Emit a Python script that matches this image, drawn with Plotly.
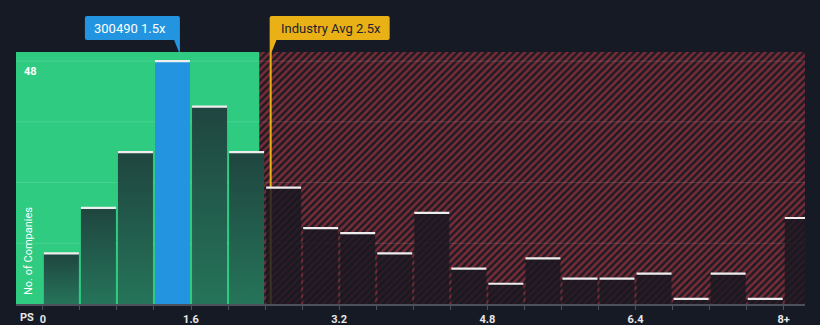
import plotly.graph_objects as go

# Price-to-sales distribution of peer companies (bins of 0.4x, last bin is 8x and above)
bin_width = 0.4
counts = [10, 19, 30, 48, 39, 30, 23, 15, 14, 10, 18, 7, 4, 9, 5, 5, 6, 1, 6, 1, 17]
label_vals = [0, 1.6, 3.2, 4.8, 6.4, 8.0]
label_text = ["0", "1.6", "3.2", "4.8", "6.4", "8+"]
y_grid = [12, 24, 36, 48]
y_label_vals = [48]

company = "300490"
company_ps = 1.48
industry_avg = 2.46
fair_limit = 2.34

x_range = [-0.29, 8.23]
y_range = [0, 49.8]

BG = "#151a24"
GREEN = "#2ecb80"
BLUE = "#2394df"
GOLD = "#e9b116"
FONT = "Roboto"

fig = go.Figure()

# hatched "expensive" zone
hx = [fair_limit, x_range[1], x_range[1], fair_limit, fair_limit]
hy = [y_range[0], y_range[0], y_range[1], y_range[1], y_range[0]]
fig.add_trace(go.Scatter(
    x=hx, y=hy, mode="lines", fill="toself", line=dict(width=0),
    fillcolor="rgba(0,0,0,0)",
    fillpattern=dict(shape="/", bgcolor="#1d1b25", fgcolor="#7a2c36",
                     size=5, solidity=0.5, fillmode="replace"),
    hoverinfo="skip", showlegend=False))

# horizontal grid lines
gx, gy = [], []
for v in y_grid:
    gx += [x_range[0], x_range[1], None]
    gy += [v, v, None]
fig.add_trace(go.Scatter(x=gx, y=gy, mode="lines",
                         line=dict(color="rgba(255,255,255,0.13)", width=1),
                         hoverinfo="skip", showlegend=False))

# industry average marker line
fig.add_trace(go.Scatter(x=[industry_avg, industry_avg], y=y_range, mode="lines",
                         line=dict(color=GOLD, width=2),
                         hoverinfo="skip", showlegend=False))

# histogram bars
gap = 0.022
top_x, top_y = [], []
for i, c in enumerate(counts):
    x0 = i * bin_width + gap / 2
    x1 = (i + 1) * bin_width - gap / 2
    center = (x0 + x1) / 2
    px = [x0, x1, x1, x0, x0]
    py = [0, 0, c, c, 0]
    if i * bin_width <= company_ps < (i + 1) * bin_width:
        fig.add_trace(go.Scatter(x=px, y=py, mode="lines", fill="toself",
                                 fillcolor=BLUE, line=dict(width=0),
                                 hoverinfo="skip", showlegend=False))
    elif center < fair_limit:
        fig.add_trace(go.Scatter(
            x=px, y=py, mode="lines", fill="toself", line=dict(width=0),
            fillgradient=dict(type="vertical", start=0, stop=c,
                              colorscale=[[0, "#257459"], [1, "#1f453f"]]),
            hoverinfo="skip", showlegend=False))
    else:
        fig.add_trace(go.Scatter(x=px, y=py, mode="lines", fill="toself",
                                 fillcolor="rgba(24,23,33,0.82)", line=dict(width=0),
                                 hoverinfo="skip", showlegend=False))
    top_x += [x0, x1, None]
    top_y += [c, c, None]

fig.add_trace(go.Scatter(x=top_x, y=top_y, mode="lines",
                         line=dict(color="#eeeeee", width=2.2),
                         hoverinfo="skip", showlegend=False))

edges = [round(i * bin_width, 2) for i in range(len(counts))]
tick_text = []
for e in edges:
    match = [t for v, t in zip(label_vals, label_text) if abs(v - e) < 1e-6]
    tick_text.append(match[0] if match else "")

shapes = [
    dict(type="rect", xref="x", yref="paper", x0=x_range[0], x1=fair_limit,
         y0=0, y1=1, fillcolor=GREEN, line=dict(width=0), layer="below"),
    # company callout
    dict(type="path", xref="x", yref="paper", xsizemode="pixel", ysizemode="pixel",
         xanchor=company_ps, yanchor=1,
         path="M -93,12 L 0,12 L 0,34 Q 0,36 -2,36 L -93,36 Q -95,36 -95,34 L -95,14 Q -95,12 -93,12 Z",
         fillcolor=BLUE, line=dict(width=0), layer="above"),
    dict(type="path", xref="x", yref="paper", xsizemode="pixel", ysizemode="pixel",
         xanchor=company_ps, yanchor=1,
         path="M -6,12.5 L 0,12.5 L 0,0 L -1,0 Z",
         fillcolor=BLUE, line=dict(width=0), layer="above"),
    # industry average callout
    dict(type="path", xref="x", yref="paper", xsizemode="pixel", ysizemode="pixel",
         xanchor=industry_avg, yanchor=1,
         path="M -1,12 L 117,12 Q 119,12 119,14 L 119,34 Q 119,36 117,36 L 1,36 Q -1,36 -1,34 Z",
         fillcolor=GOLD, line=dict(width=0), layer="above"),
    dict(type="path", xref="x", yref="paper", xsizemode="pixel", ysizemode="pixel",
         xanchor=industry_avg, yanchor=1,
         path="M -1,12.5 L 6,12.5 L 1,0 L -1,0 Z",
         fillcolor=GOLD, line=dict(width=0), layer="above"),
]

annotations = [
    dict(text=f"{company} {company_ps:.1f}x", xref="x", yref="paper",
         x=company_ps, y=1, xanchor="left", yanchor="middle",
         xshift=-88, yshift=24, showarrow=False,
         font=dict(family=FONT, size=13, color="#ffffff")),
    dict(text=f"Industry Avg {industry_avg:.1f}x", xref="x", yref="paper",
         x=industry_avg, y=1, xanchor="left", yanchor="middle",
         xshift=8, yshift=24, showarrow=False,
         font=dict(family=FONT, size=13, color="#1c2130")),
    dict(text="No. of Companies", xref="paper", yref="paper",
         x=0.0152, y=0.21, textangle=-90, xanchor="center", yanchor="middle",
         showarrow=False, font=dict(family=FONT, size=11, color="#ffffff")),
    dict(text="PS", xref="paper", yref="paper", x=0.002, y=-0.054,
         xanchor="left", yanchor="middle", showarrow=False,
         font=dict(family=FONT, size=11, color="#e8e8e8", weight="bold")),
]
for v in y_label_vals:
    annotations.append(dict(text=str(v), xref="paper", yref="y", x=0.0076, y=v,
                            xanchor="left", yanchor="top", yshift=-2, showarrow=False,
                            font=dict(family=FONT, size=11, color="#ffffff", weight="bold")))

fig.update_layout(
    width=820, height=325,
    margin=dict(l=16, r=15, t=52, b=21, autoexpand=False),
    paper_bgcolor=BG, plot_bgcolor=BG,
    showlegend=False,
    shapes=shapes, annotations=annotations,
    xaxis=dict(range=x_range, tickvals=edges, ticktext=tick_text, automargin=False,
               ticks="outside", ticklen=4, tickcolor="#4b515c", tickwidth=1,
               showline=True, linecolor="#4b515c", linewidth=1.5,
               showgrid=False, zeroline=False,
               tickfont=dict(family=FONT, size=11, color="#e8e8e8", weight="bold")),
    yaxis=dict(range=y_range, showgrid=False, zeroline=False, automargin=False,
               showticklabels=False, showline=False, ticks=""),
)

fig.write_html("out.html")
